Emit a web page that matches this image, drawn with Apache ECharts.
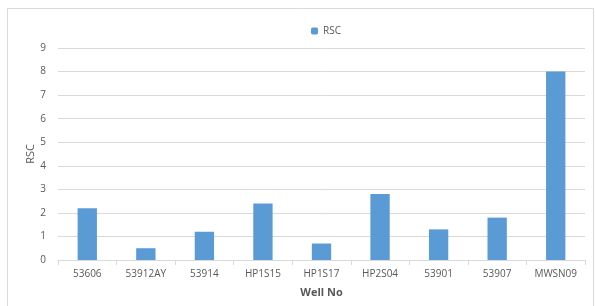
<!DOCTYPE html>
<html>
<head>
<meta charset="utf-8">
<style>
  html, body { margin: 0; padding: 0; background: #fff; }
  #chart { width: 595px; height: 306px; }
</style>
<script src="https://cdn.jsdelivr.net/npm/echarts@6/dist/echarts.min.js"></script>
</head>
<body>
<div id="chart"></div>
<script>
const wells = ['53606', '53912AY', '53914', 'HP1S15', 'HP1S17', 'HP2S04', '53901', '53907', 'MWSN09']
const rsc = [2.2, 0.5, 1.2, 2.4, 0.7, 2.8, 1.3, 1.8, 8.0]

const chart = echarts.init(document.getElementById('chart'))

chart.setOption({
  backgroundColor: '#fff',
  animation: false,
  graphic: [{
    type: 'rect',
    shape: { x: 7.5, y: 8.5, width: 586, height: 300 },
    style: { fill: 'none', stroke: '#d9d9d9', lineWidth: 1 },
    silent: true
  }],
  legend: {
    top: 21,
    left: 306,
    itemWidth: 7,
    itemHeight: 7,
    itemGap: 4,
    textStyle: { color: '#595959', fontSize: 10, fontFamily: 'Open Sans' },
    data: ['RSC']
  },
  grid: {
    left: 58,
    right: 10,
    top: 48,
    bottom: 46
  },
  xAxis: {
    type: 'category',
    data: wells,
    name: 'Well No',
    nameLocation: 'middle',
    nameGap: 27,
    nameMoveOverlap: false,
    nameTextStyle: { color: '#595959', fontSize: 11, fontWeight: 'bold', fontFamily: 'Open Sans' },
    axisLine: { lineStyle: { color: '#d9d9d9' } },
    axisTick: { show: true, length: 5, lineStyle: { color: '#d9d9d9' } },
    axisLabel: { color: '#595959', fontSize: 10, margin: 9, fontFamily: 'Open Sans' }
  },
  yAxis: {
    type: 'value',
    min: 0,
    max: 9,
    interval: 1,
    name: 'RSC',
    nameLocation: 'middle',
    nameGap: 22,
    nameMoveOverlap: false,
    nameTextStyle: { color: '#595959', fontSize: 11, fontFamily: 'Open Sans' },
    axisLine: { show: false },
    axisTick: { show: false },
    axisLabel: { color: '#595959', fontSize: 10, margin: 12, fontFamily: 'Open Sans' },
    splitLine: { lineStyle: { color: '#d9d9d9' } }
  },
  series: [{
    name: 'RSC',
    type: 'bar',
    barWidth: '33%',
    itemStyle: { color: '#5b9bd5' },
    data: rsc
  }]
})
</script>
</body>
</html>
